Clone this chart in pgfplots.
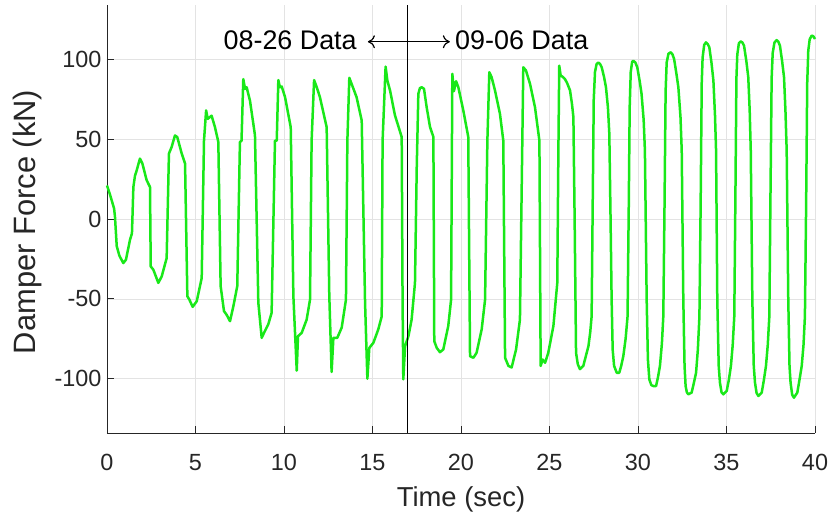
\documentclass[border=0pt]{standalone}
\usepackage{fontspec}
\setmainfont{Liberation Sans}
\usepackage{pgfplots}
\usepackage{pgfplotstable}
\usetikzlibrary{arrows.meta}
\pgfplotsset{compat=1.18}
\definecolor{mgreen}{RGB}{25,232,25}
\definecolor{axgray}{RGB}{38,38,38}
\pgfplotstableread{
t F
0 21
0.15 16
0.4 6.6
0.45 1.5
0.55 -17
0.7 -23
0.92 -27.6
1.07 -25.5
1.3 -13
1.41 -9
1.49 20
1.58 27
1.68 30.5
1.86 37.8
2.0 34.7
2.24 24.3
2.43 20
2.47 -29.7
2.62 -31.8
2.9 -40
3.09 -36
3.37 -24.5
3.5 41
3.65 45
3.84 52.3
3.97 51.3
4.22 41
4.41 34.7
4.54 -48.4
4.65 -50.4
4.84 -55
5.07 -51.5
5.35 -37
5.48 49
5.6 68
5.69 62.7
5.91 64.7
6.1 57.5
6.29 48.2
6.42 -42
6.61 -57.7
6.76 -60
6.95 -64
7.14 -54.6
7.36 -42
7.51 48.2
7.6 49
7.7 87.6
7.8 81.5
7.89 82.5
8.08 74
8.36 52.4
8.55 -52.5
8.74 -74.4
8.87 -71.3
9.11 -66
9.3 -58.8
9.49 49
9.59 49
9.68 87
9.77 82.5
9.87 83
10.06 76.3
10.38 57.5
10.53 -48.4
10.72 -95
10.79 -73.4
11.0 -71.3
11.28 -63
11.47 -50.5
11.56 49
11.7 87
11.85 82.5
12.03 76.3
12.41 57.5
12.56 -48.4
12.69 -95.8
12.79 -74.4
13.01 -74.4
13.26 -68
13.5 -50.5
13.58 49
13.69 88.4
13.82 84.6
14.1 76.3
14.39 61.7
14.58 -52.5
14.71 -100
14.82 -80.7
15.05 -77.5
15.33 -69
15.52 -61
15.57 49
15.74 95.4
15.84 86.7
15.99 80.5
16.27 64.9
16.65 51.3
16.7 -52.5
16.74 -100.4
16.84 -79.6
17.03 -73.4
17.21 -63
17.4 -40
17.5 32.6
17.59 78.4
17.68 82
17.78 82.5
17.91 81.5
18.06 70
18.25 57.6
18.44 51.4
18.49 -76.5
18.63 -80.7
18.81 -83.4
19.0 -81.7
19.28 -67
19.44 -50.5
19.51 90.9
19.6 80
19.72 86.3
19.85 82.5
20.13 68
20.41 51.4
20.51 -85.9
20.7 -86.9
20.88 -83.8
21.17 -69
21.36 -50.5
21.49 49
21.6 91.9
21.73 88.8
21.92 80.5
22.2 65.9
22.39 49
22.49 -86.9
22.68 -92
22.86 -93
23.11 -81.7
23.33 -63
23.52 95
23.67 93
23.9 84.6
24.18 70
24.43 49
24.5 -92
24.61 -88
24.75 -90
24.93 -83.8
25.22 -67
25.44 -40
25.5 40
25.55 96
25.63 89.8
25.75 89
25.87 87.7
26.0 85
26.16 80.5
26.27 72
26.35 63.8
26.42 0
26.5 -83.8
26.6 -91
26.72 -94
26.91 -92
27.05 -86
27.2 -79.6
27.3 -71
27.38 -61
27.45 20
27.5 75
27.57 92
27.66 97
27.76 98
27.86 97
27.95 95
28.08 89
28.19 82.5
28.3 70
28.38 53.4
28.45 0
28.51 -50.5
28.57 -82
28.65 -92
28.8 -96.3
28.94 -96.3
29.05 -92
29.17 -85.9
29.3 -75
29.41 -61
29.48 10
29.53 70
29.59 92
29.67 98.5
29.74 99
29.85 98
29.96 95
30.1 86
30.2 78.4
30.32 62
30.39 43
30.49 -50.5
30.56 -88
30.64 -100.4
30.75 -104
30.87 -104.6
31.02 -104.6
31.13 -99
31.24 -92
31.35 -78
31.43 -61
31.5 10
31.56 80
31.62 98
31.72 103.5
31.85 104.4
31.95 103
32.04 100.2
32.17 91
32.28 82.5
32.4 64
32.47 43
32.56 -50.5
32.63 -92
32.69 -104.6
32.76 -108.5
32.84 -109.8
33.03 -108.7
33.15 -103
33.28 -96.3
33.38 -82
33.47 -61
33.54 10
33.6 85
33.65 101
33.74 109
33.84 110.6
33.94 109.5
34.03 107.5
34.15 98
34.26 86.7
34.35 65
34.41 43
34.48 -50.5
34.56 -92
34.63 -102.5
34.72 -108.5
34.82 -109.8
35.01 -107.7
35.13 -101
35.25 -92
35.35 -79
35.44 -61
35.5 10
35.56 88
35.61 103
35.7 110
35.8 111.2
35.9 110.5
35.99 108.5
36.12 99
36.23 88.8
36.31 68
36.37 43
36.46 -50.5
36.54 -92
36.61 -102.5
36.7 -109
36.8 -110.8
36.99 -108.7
37.11 -101
37.23 -92
37.33 -79
37.42 -61
37.48 10
37.55 88
37.61 104
37.71 110.5
37.83 112
37.93 111
38.02 108.5
38.14 99
38.25 88.8
38.33 68
38.4 43
38.49 -50.5
38.56 -92
38.62 -102.5
38.71 -110
38.81 -111.9
39.0 -108.7
39.12 -101
39.25 -92
39.35 -79
39.43 -61
39.5 10
39.56 85
39.62 105.4
39.7 112.5
39.81 114.8
39.9 114.5
40.0 112.7
}\damper
\begin{document}
\begin{tikzpicture}
\useasboundingbox (-107bp,-84bp) rectangle (725bp,433bp);
\begin{axis}[
  at={(0,0)}, anchor=south west,
  scale only axis, width=708bp, height=428bp,
  xmin=0, xmax=40, ymin=-134, ymax=134,
  xtick={0,5,...,40}, ytick={-100,-50,0,50,100},
  axis x line*=bottom, axis y line*=left,
  axis line style={axgray, line width=0.8bp, -},
  tick style={axgray, line width=0.8bp},
  tick align=inside, major tick length=7bp,
  grid=major, grid style={gray!22, line width=0.6bp},
  /pgf/number format/assume math mode=true,
  ticklabel style={font=\fontsize{23.5}{28}\selectfont, text=axgray},
  xticklabel style={anchor=base, yshift=-37bp},
  yticklabel style={xshift=-2bp},
  xlabel={Time (sec)},
  ylabel={Damper Force (kN)},
  every axis x label/.style={at={(axis description cs:0.5,-0.1706)}, anchor=base,
    font=\fontsize{27.5}{32}\selectfont, text=axgray},
  every axis y label/.style={at={(axis description cs:-0.1015,0.493)}, anchor=base, rotate=90,
    font=\fontsize{31}{36}\selectfont, text=axgray},
  clip=false,
]
\addplot[mgreen, line width=2.5bp, line join=round] table[x=t, y=F] {\damper};
\addplot[black, line width=1bp] coordinates {(17,-134) (17,134)};
\draw[-{Computer Modern Rightarrow[length=7bp,width=13bp]}, line width=1.2bp] (axis cs:17,111) -- (axis cs:14.74,111);
\draw[-{Computer Modern Rightarrow[length=7bp,width=13bp]}, line width=1.2bp] (axis cs:17,111) -- (axis cs:19.37,111);
\node[anchor=base east, inner sep=0pt, font=\fontsize{27}{32}\selectfont] at (axis cs:14.12,106) {08-26 Data};
\node[anchor=base west, inner sep=0pt, font=\fontsize{27}{32}\selectfont] at (axis cs:19.66,106) {09-06 Data};
\end{axis}
\end{tikzpicture}
\end{document}
